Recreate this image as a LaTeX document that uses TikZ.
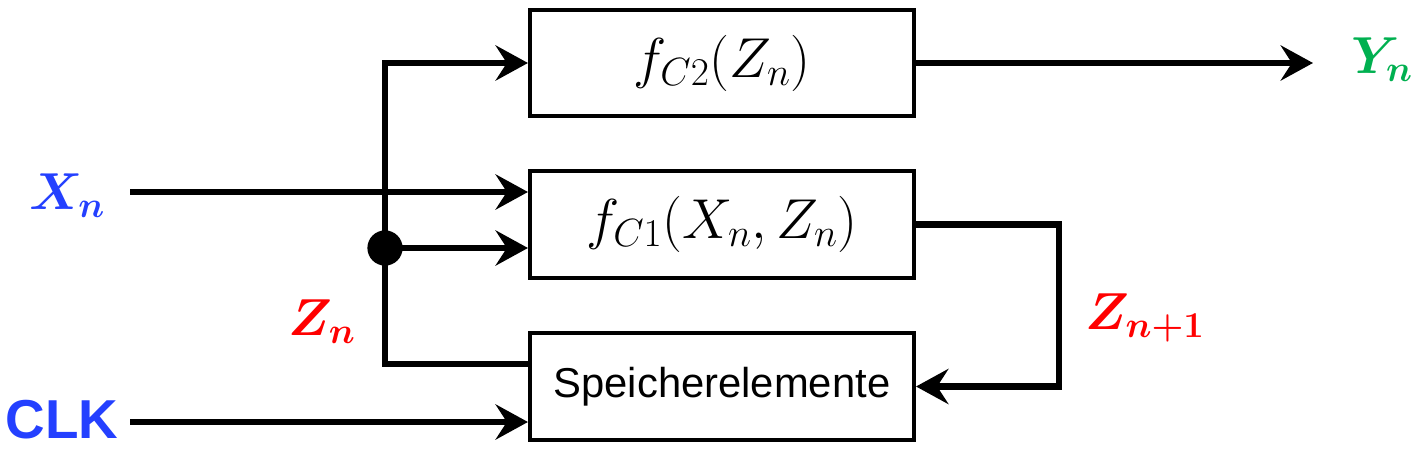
\RequirePackage{fix-cm}
\documentclass[tikz,border=0pt]{standalone}
\usepackage{amsmath}
\usepackage{fontspec}
\newfontfamily\arialfont{Liberation Sans}
\usepackage{tikz}
\usetikzlibrary{arrows.meta}
\definecolor{sig_blue}{HTML}{2440FF}
\definecolor{sig_red}{HTML}{FF0000}
\definecolor{sig_green}{HTML}{00B050}

\begin{document}
\begin{tikzpicture}[x=0.025cm, y=-0.025cm,
    >={Stealth[length=23pt, width=25pt, inset=8pt]},
    block/.style={draw, line width=2.85pt, minimum width=9.6cm, minimum height=2.65cm,
      inner sep=0pt, font=\fontsize{40}{46}\selectfont},
    wire/.style={line width=4.6pt},
    sig/.style={font=\fontsize{37}{43}\selectfont}]

    \useasboundingbox (0,0) rectangle (1416,453);

    % the three blocks
    \node[block] (fc2) at (722,63) {$f_{C2}(Z_n)$};
    \node[block] (fc1) at (722,224.5) {$f_{C1}(X_n,Z_n)$};
    \node[block, font=\arialfont\fontsize{29.7}{34}\selectfont] (mem) at (722,386.5) {Speicherelemente};

    % inputs
    \coordinate (xin) at (130,192);
    \coordinate (clkin) at (130,422);
    \draw[wire,->] (xin) -- (xin -| fc1.west);
    \draw[wire,->] (clkin) -- (clkin -| mem.west);

    % state bus Z_n
    \coordinate (zlow) at (385,364);
    \coordinate (zn) at (385,248);
    \draw[wire,->] (zlow -| mem.west) -- (zlow) -- (zlow |- fc2.west) -- (fc2.west);
    \draw[wire,->] (zn) -- (zn -| fc1.west);
    \fill (zn) circle[radius=0.44cm];

    % feedback Z_{n+1} and output Y_n
    \coordinate (fb) at (1059,0);
    \coordinate (yout) at (1313,63);
    \draw[wire,->] (fc1.east) -- (fc1.east -| fb) -- (fb |- mem.east) -- (mem.east);
    \draw[wire,->] (fc2.east) -- (yout);

    % labels
    \node[sig, text=sig_blue] (lblX) at (67,196) {$\boldsymbol{X_n}$};
    \node[text=sig_blue, font=\arialfont\bfseries\fontsize{39}{45}\selectfont] (lblClk) at (62,420) {CLK};
    \node[sig, text=sig_red] (lblZ) at (322,322) {$\boldsymbol{Z_n}$};
    \node[sig, text=sig_red] (lblZnext) at (1145,318) {$\boldsymbol{Z_{n+1}}$};
    \node[sig, text=sig_green] (lblY) at (1382,60) {$\boldsymbol{Y_n}$};

\end{tikzpicture}
\end{document}
